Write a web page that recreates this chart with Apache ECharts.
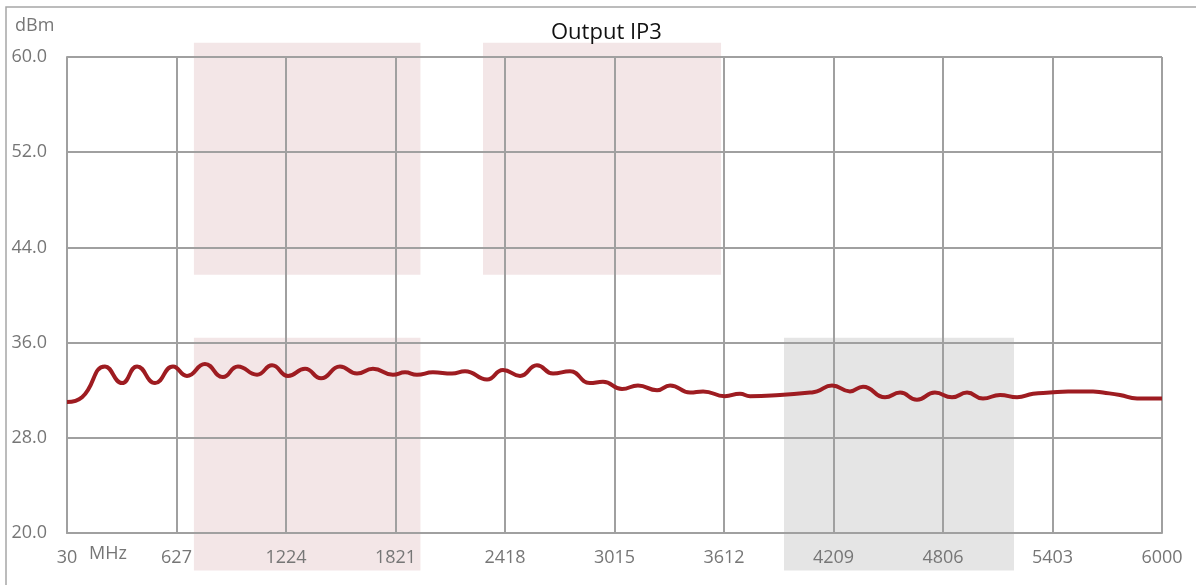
<!DOCTYPE html>
<html>
<head>
<meta charset="utf-8">
<script src="https://cdn.jsdelivr.net/npm/echarts@6/dist/echarts.min.js"></script>
<style>
  html, body { margin: 0; padding: 0; background: #fff; }
  #chart { width: 1196px; height: 585px; }
</style>
</head>
<body>
<div id="chart"></div>
<script>
// frequency (MHz) and output IP3 (dBm)
const freq = [30, 112, 237, 330, 412, 510, 608, 684, 782, 880,
  962, 1066, 1148, 1235, 1328, 1415, 1518, 1611, 1698, 1807,
  1873, 1938, 2025, 2129, 2200, 2320, 2407, 2500, 2592, 2680,
  2772, 2881, 2952, 3056, 3143, 3247, 3318, 3427, 3498, 3617,
  3699, 3754, 3917, 4081, 4119, 4201, 4299, 4370, 4490, 4572,
  4664, 4762, 4855, 4937, 5024, 5117, 5210, 5297, 5389, 5488,
  5624, 5678, 5771, 5864, 6000]
const ip3 = [31.0, 31.4, 34.0, 32.6, 34.0, 32.6, 34.0, 33.2, 34.2, 33.1,
  34.0, 33.3, 34.1, 33.2, 33.8, 33.0, 34.0, 33.4, 33.8, 33.3,
  33.5, 33.3, 33.5, 33.4, 33.6, 32.9, 33.7, 33.2, 34.1, 33.4,
  33.6, 32.6, 32.7, 32.1, 32.4, 32.0, 32.4, 31.8, 31.9, 31.5,
  31.7, 31.5, 31.6, 31.8, 31.9, 32.4, 31.9, 32.3, 31.4, 31.8,
  31.2, 31.8, 31.4, 31.8, 31.3, 31.6, 31.4, 31.7, 31.8, 31.9,
  31.9, 31.8, 31.6, 31.3, 31.3]

// shaded bands (MHz / dBm)
const bandStart = [722, 2298, 722, 3939]
const bandEnd = [1957, 3596, 1957, 5193]
const bandLow = [41.7, 41.7, 16.85, 16.85]
const bandHigh = [61.2, 61.2, 36.4, 36.4]
const bandColors = ['#f3e6e7', '#f3e6e7', '#f3e6e7', '#e5e5e5']

const xTicks = { min: 30, max: 6000, interval: 597 }
const yTicks = { min: 20, max: 60, interval: 8 }

const gridColor = '#a0a0a0'
const labelColor = '#767676'
const font = '"Open Sans", "Noto Sans", sans-serif'

const chart = echarts.init(document.getElementById('chart'))

const option = {
  animation: false,
  backgroundColor: '#fff',
  title: {
    text: 'Output IP3',
    left: 546,
    top: 17,
    textStyle: { fontFamily: font, fontSize: 22, fontWeight: 'normal', color: '#111' },
  },
  grid: { left: 67, right: 34, top: 57, bottom: 52, containLabel: false },
  xAxis: {
    type: 'value',
    min: xTicks.min,
    max: xTicks.max,
    interval: xTicks.interval,
    z: 1,
    axisLine: { show: true, lineStyle: { color: gridColor, width: 2 } },
    axisTick: { show: false },
    splitLine: { show: true, lineStyle: { color: gridColor, width: 2 } },
    axisLabel: {
      color: labelColor, fontFamily: font, fontSize: 18, margin: 16,
      formatter: (v) => String(v),
    },
  },
  yAxis: {
    type: 'value',
    min: yTicks.min,
    max: yTicks.max,
    interval: yTicks.interval,
    z: 1,
    axisLine: { show: true, lineStyle: { color: gridColor, width: 2 } },
    axisTick: { show: false },
    splitLine: { show: true, lineStyle: { color: gridColor, width: 2 } },
    axisLabel: {
      color: labelColor, fontFamily: font, fontSize: 18, margin: 20,
      formatter: (v) => v.toFixed(1),
    },
  },
  graphic: [
    {
      type: 'polyline',
      shape: { points: [[6, 585], [6, 7], [1196, 7]] },
      style: { stroke: '#a6a6a6', lineWidth: 1.5, fill: null },
      silent: true,
    },
    {
      type: 'text', left: 15, top: 17,
      style: { text: 'dBm', fill: labelColor, font: '18px ' + font },
    },
    {
      type: 'text', left: 89, top: 545,
      style: { text: 'MHz', fill: labelColor, font: '18px ' + font },
    },
  ],
  series: [
    {
      name: 'bands',
      type: 'custom',
      z: 0,
      clip: false,
      silent: true,
      encode: { x: [0, 1], y: [2, 3] },
      data: bandStart.map((s, i) => [s, bandEnd[i], bandLow[i], bandHigh[i]]),
      renderItem: (params, api) => {
        const p0 = api.coord([api.value(0), api.value(3)])
        const p1 = api.coord([api.value(1), api.value(2)])
        return {
          type: 'rect',
          shape: { x: p0[0], y: p0[1], width: p1[0] - p0[0], height: p1[1] - p0[1] },
          style: { fill: bandColors[params.dataIndex] },
        }
      },
    },
    {
      name: 'Output IP3',
      type: 'line',
      z: 3,
      smooth: 0.5,
      showSymbol: false,
      lineStyle: { color: '#9e1c21', width: 4 },
      data: freq.map((f, i) => [f, ip3[i]]),
    },
  ],
}

chart.setOption(option)
</script>
</body>
</html>
